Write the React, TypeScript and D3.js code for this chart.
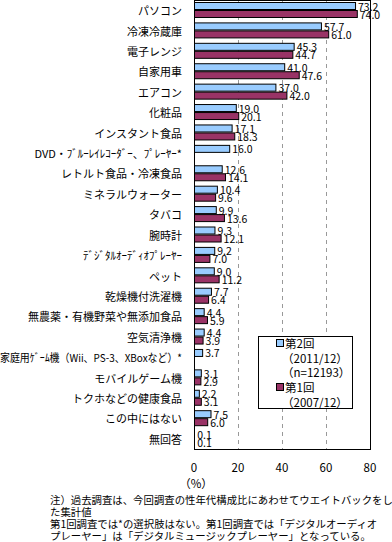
import React, { useEffect, useRef } from 'react';
import * as d3 from 'd3';

// categories (top to bottom)
const categories: string[] = [
  'パソコン', '冷凍冷蔵庫', '電子レンジ', '自家用車', 'エアコン', '化粧品',
  'インスタント食品', 'DVD・ﾌﾞﾙｰﾚｲﾚｺｰﾀﾞｰ、ﾌﾟﾚｰﾔｰ*', 'レトルト食品・冷凍食品',
  'ミネラルウォーター', 'タバコ', '腕時計', 'ﾃﾞｼﾞﾀﾙｵｰﾃﾞｨｵﾌﾟﾚｰﾔｰ', 'ペット',
  '乾燥機付洗濯機', '無農薬・有機野菜や無添加食品', '空気清浄機',
  '家庭用ｹﾞｰﾑ機（Wii、PS-3、XBoxなど）*', 'モバイルゲーム機', 'トクホなどの健康食品',
  'この中にはない', '無回答'
];

// 第2回 (2011/12)
const round2: number[] = [
  73.2, 57.7, 45.3, 41.0, 37.0, 19.0, 17.1, 16.0, 12.6, 10.4, 9.9,
  9.3, 9.2, 9.0, 7.7, 4.4, 4.4, 3.7, 3.1, 2.2, 7.5, 0.1
];

// 第1回 (2007/12), null = not asked
const round1: (number | null)[] = [
  74.0, 61.0, 44.7, 47.6, 42.0, 20.1, 18.3, null, 14.1, 9.6, 13.6,
  12.1, 7.0, 11.2, 6.4, 5.9, 3.9, null, 2.9, 3.1, 6.0, 0.1
];

const xTicks: number[] = [0, 20, 40, 60, 80];
const gridTicks: number[] = [20, 40, 60];

const footnotes: string[] = [
  '注）過去調査は、今回調査の性年代構成比にあわせてウエイトバックをし',
  'た集計値',
  '第1回調査では*の選択肢はない。第1回調査では「デジタルオーディオ',
  'プレーヤー」は「デジタルミュージックプレーヤー」となっている。'
];

const BLUE = '#99ccff';
const MAROON = '#993366';
const FONT = '"Noto Sans CJK JP", "Noto Sans", sans-serif';
const LABEL_RIGHT = 182;

export default function App() {
  const chartRef = useRef<SVGSVGElement | null>(null);

  useEffect(() => {
    if (!chartRef.current) return;
    const svg = d3.select(chartRef.current);
    svg.selectAll('*').remove();

    const left = 194, right = 370, top = 0, bottom = 449;

    const x = d3.scaleLinear().domain([0, 80]).range([left, right]);
    const y = d3.scaleBand().domain(categories).range([top, bottom]).padding(0);

    // grid
    svg.append('g')
      .selectAll('line')
      .data(gridTicks)
      .enter().append('line')
      .attr('x1', d => x(d) + 0.5).attr('x2', d => x(d) + 0.5)
      .attr('y1', top).attr('y2', bottom)
      .attr('stroke', '#999')
      .attr('stroke-dasharray', '4,4');

    // bars
    const rows = categories.map((c, i) => ({ c, v2: round2[i], v1: round1[i] }));

    svg.append('g').selectAll('rect')
      .data(rows)
      .enter().append('rect')
      .attr('x', x(0) + 0.5)
      .attr('y', d => (y(d.c) as number) + 2.5)
      .attr('width', d => Math.max(0, x(d.v2) - x(0)))
      .attr('height', 7)
      .attr('fill', BLUE)
      .attr('stroke', d => d.v2 >= 0.5 ? '#000' : 'none');

    svg.append('g').selectAll('rect')
      .data(rows.filter(d => d.v1 !== null))
      .enter().append('rect')
      .attr('x', x(0) + 0.5)
      .attr('y', d => (y(d.c) as number) + 10.5)
      .attr('width', d => Math.max(0, x(d.v1 as number) - x(0)))
      .attr('height', 7)
      .attr('fill', MAROON)
      .attr('stroke', d => (d.v1 as number) >= 0.5 ? '#000' : 'none');

    // value labels
    svg.append('g').selectAll('text')
      .data(rows)
      .enter().append('text')
      .attr('x', d => x(d.v2) + 3)
      .attr('y', d => (y(d.c) as number) + 6)
      .attr('dominant-baseline', 'central')
      .style('font-family', FONT)
      .style('font-size', '10.5px')
      .text(d => d.v2.toFixed(1));

    svg.append('g').selectAll('text')
      .data(rows.filter(d => d.v1 !== null))
      .enter().append('text')
      .attr('x', d => x(d.v1 as number) + 3)
      .attr('y', d => (y(d.c) as number) + 14)
      .attr('dominant-baseline', 'central')
      .style('font-family', FONT)
      .style('font-size', '10.5px')
      .text(d => (d.v1 as number).toFixed(1));

    // frame
    svg.append('rect')
      .attr('x', left + 0.5).attr('y', top + 0.5)
      .attr('width', right - left).attr('height', bottom - top)
      .attr('fill', 'none').attr('stroke', '#000');

    // category labels
    svg.append('g').selectAll('text')
      .data(categories)
      .enter().append('text')
      .attr('x', LABEL_RIGHT)
      .attr('y', d => (y(d) as number) + y.bandwidth() / 2)
      .attr('text-anchor', 'end')
      .attr('dominant-baseline', 'central')
      .style('font-family', FONT)
      .style('font-size', '11px')
      .text(d => d)
      .each(function () {
        // squeeze the one label that is wider than the space on the left
        const el = this as SVGTextElement;
        const w = el.getComputedTextLength();
        if (w > LABEL_RIGHT) {
          el.setAttribute('textLength', String(LABEL_RIGHT));
          el.setAttribute('lengthAdjust', 'spacingAndGlyphs');
        }
      });

    // x tick labels
    svg.append('g').selectAll('text')
      .data(xTicks)
      .enter().append('text')
      .attr('x', d => x(d))
      .attr('y', 467)
      .attr('text-anchor', 'middle')
      .attr('dominant-baseline', 'central')
      .style('font-family', FONT)
      .style('font-size', '11.5px')
      .text(d => d);

    svg.append('text')
      .attr('x', 196).attr('y', 483)
      .attr('text-anchor', 'middle')
      .attr('dominant-baseline', 'central')
      .style('font-family', FONT)
      .style('font-size', '11.5px')
      .text('（%）');

    // legend
    const lg = svg.append('g');
    lg.append('rect')
      .attr('x', 258.5).attr('y', 336.5).attr('width', 94).attr('height', 72)
      .attr('fill', '#fff').attr('stroke', '#000');
    const legendItems = [
      { color: BLUE, lines: ['第2回', '（2011/12）', '（n=12193）'], y: 343 },
      { color: MAROON, lines: ['第1回', '（2007/12）'], y: 387 }
    ];
    legendItems.forEach(item => {
      lg.append('rect')
        .attr('x', 276.5).attr('y', item.y - 3.5).attr('width', 7).attr('height', 7)
        .attr('fill', item.color).attr('stroke', '#000');
      item.lines.forEach((t, j) => {
        lg.append('text')
          .attr('x', j === 0 ? 285 : 282)
          .attr('y', item.y + j * 14.5)
          .attr('dominant-baseline', 'central')
          .style('font-family', FONT)
          .style('font-size', '11.5px')
          .text(t);
      });
    });

    // footnotes
    svg.append('g').selectAll('text')
      .data(footnotes)
      .enter().append('text')
      .attr('x', 50)
      .attr('y', (d, i) => 499 + i * 12)
      .attr('dominant-baseline', 'central')
      .style('font-family', FONT)
      .style('font-size', '10.4px')
      .text(d => d);
  }, []);

  return (
    <svg ref={chartRef} width={392} height={542}
      style={{ position: 'absolute', left: 0, top: 0, background: '#fff' }} />
  );
}
